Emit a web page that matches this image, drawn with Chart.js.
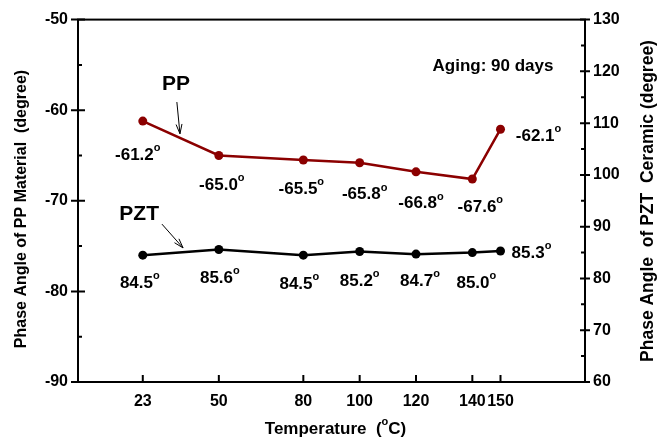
<!DOCTYPE html>
<html>
<head>
<meta charset="utf-8">
<script src="https://cdn.jsdelivr.net/npm/chart.js@4.4.0/dist/chart.umd.min.js"></script>
<style>
  html, body { margin: 0; padding: 0; background: #fff; }
</style>
</head>
<body>
<canvas id="chart" width="667" height="438"></canvas>
<script>
var temps = [23, 50, 80, 100, 120, 140, 150];
var ppPhase = [-61.2, -65.0, -65.5, -65.8, -66.8, -67.6, -62.1];
var pztPhase = [84.5, 85.6, 84.5, 85.2, 84.7, 85.0, 85.3];
var xTicks = [23, 50, 80, 100, 120, 140, 150];

// where each value label sits, relative to its point (px)
var ppLabelOffset = [[-5, 34], [3, 30], [-2, 29], [5, 32], [5, 32], [8, 28], [38, 7]];
var pztLabelOffset = [[-3, 28], [1, 29], [-4, 29], [0, 30], [4, 27], [4, 31], [31, 2]];

var FONT = '"Liberation Sans", Arial, sans-serif';
var PP_RED = '#8b0000';

function bold(size) {
	return 'bold ' + size + 'px ' + FONT;
}

// text with a raised small "o" used as the degree sign
function drawRich(ctx, segs, cx, cy, size) {
	var w = 0;
	segs.forEach(function (s) {
		ctx.font = s.sup ? bold(Math.round(size * 0.62)) : bold(size);
		s.w = ctx.measureText(s.t).width;
		w += s.w;
	});
	var x = cx - w / 2;
	ctx.textAlign = 'left';
	ctx.textBaseline = 'middle';
	segs.forEach(function (s) {
		ctx.font = s.sup ? bold(Math.round(size * 0.62)) : bold(size);
		ctx.fillText(s.t, x, s.sup ? cy - size * 0.42 : cy);
		x += s.w;
	});
}

function degLabel(v) {
	return [{ t: v.toFixed(1) }, { t: 'o', sup: true }];
}

function arrow(ctx, x1, y1, x2, y2) {
	var a = Math.atan2(y2 - y1, x2 - x1);
	ctx.beginPath();
	ctx.moveTo(x1, y1);
	ctx.lineTo(x2, y2);
	ctx.moveTo(x2 - 10 * Math.cos(a - 0.3), y2 - 10 * Math.sin(a - 0.3));
	ctx.lineTo(x2, y2);
	ctx.lineTo(x2 - 10 * Math.cos(a + 0.3), y2 - 10 * Math.sin(a + 0.3));
	ctx.stroke();
}

//-------------------
//- FRAME AND TICKS -
//-------------------
var framePlugin = {
	id: 'frame',
	beforeDatasetsDraw: function (chart) {
		var ctx = chart.ctx, a = chart.chartArea;
		var x = chart.scales.x, yl = chart.scales.y, yr = chart.scales.y1;
		ctx.save();
		ctx.strokeStyle = '#000';
		ctx.lineWidth = 2;
		ctx.strokeRect(a.left, a.top, a.right - a.left, a.bottom - a.top);
		ctx.beginPath();
		xTicks.forEach(function (t) {
			var px = x.getPixelForValue(t);
			ctx.moveTo(px, a.bottom);
			ctx.lineTo(px, a.bottom - 7);
		});
		for (var v = yl.min; v <= yl.max; v += 5) {
			var py = yl.getPixelForValue(v);
			var major = (v % 10 === 0);
			ctx.moveTo(major ? a.left - 7 : a.left, py);
			ctx.lineTo(a.left + (major ? 7 : 4), py);
		}
		for (var w = yr.min; w <= yr.max; w += 5) {
			var qy = yr.getPixelForValue(w);
			var maj = (w % 10 === 0);
			ctx.moveTo(maj ? a.right + 5 : a.right, qy);
			ctx.lineTo(a.right - (maj ? 5 : 4), qy);
		}
		ctx.stroke();
		ctx.restore();
	},
	afterDatasetsDraw: function (chart) {
		var ctx = chart.ctx, a = chart.chartArea;
		var x = chart.scales.x, yl = chart.scales.y, yr = chart.scales.y1;
		ctx.save();
		ctx.fillStyle = '#000';

		// value labels
		temps.forEach(function (t, i) {
			var px = x.getPixelForValue(t);
			drawRich(ctx, degLabel(ppPhase[i]), px + ppLabelOffset[i][0], yl.getPixelForValue(ppPhase[i]) + ppLabelOffset[i][1], 17);
			drawRich(ctx, degLabel(pztPhase[i]), px + pztLabelOffset[i][0], yr.getPixelForValue(pztPhase[i]) + pztLabelOffset[i][1], 17);
		});

		// series tags with arrows
		drawRich(ctx, [{ t: 'PP' }], x.getPixelForValue(34.8), yl.getPixelForValue(-57.1), 21);
		drawRich(ctx, [{ t: 'PZT' }], x.getPixelForValue(21.7), yr.getPixelForValue(92.4), 21);
		ctx.strokeStyle = '#000';
		ctx.lineWidth = 1;
		arrow(ctx, x.getPixelForValue(35.1), yl.getPixelForValue(-59.1), x.getPixelForValue(36.2), yl.getPixelForValue(-62.6));
		arrow(ctx, x.getPixelForValue(29.8), yr.getPixelForValue(90.5), x.getPixelForValue(37.3), yr.getPixelForValue(85.9));

		drawRich(ctx, [{ t: 'Aging: 90 days' }], 493, 66, 17);

		// axis titles
		drawRich(ctx, [{ t: 'Temperature  (' }, { t: 'o', sup: true }, { t: 'C)' }], (a.left + a.right) / 2 + 4, 429, 17);
		ctx.translate(22, 209);
		ctx.rotate(-Math.PI / 2);
		drawRich(ctx, [{ t: 'Phase Angle of PP Material  (degree)' }], 0, 0, 16);
		ctx.setTransform(1, 0, 0, 1, 0, 0);
		ctx.translate(648, 201);
		ctx.rotate(-Math.PI / 2);
		drawRich(ctx, [{ t: 'Phase Angle  of PZT  Ceramic (degree)' }], 0, 0, 17.5);
		ctx.restore();
	}
};

function points(ys) {
	return temps.map(function (t, i) { return { x: t, y: ys[i] }; });
}

var ctx = document.getElementById('chart').getContext('2d');
new Chart(ctx, {
	type: 'line',
	data: {
		datasets: [{
			label: 'PP',
			data: points(ppPhase),
			yAxisID: 'y',
			borderColor: PP_RED,
			backgroundColor: PP_RED,
			borderWidth: 2.5,
			pointRadius: 4.5,
			pointBorderWidth: 0,
		}, {
			label: 'PZT',
			data: points(pztPhase),
			yAxisID: 'y1',
			borderColor: '#000',
			backgroundColor: '#000',
			borderWidth: 2.5,
			pointRadius: 4.5,
			pointBorderWidth: 0,
		}]
	},
	plugins: [framePlugin],
	options: {
		responsive: false,
		animation: false,
		devicePixelRatio: 1,
		layout: { padding: { top: 17, left: 0, right: 0, bottom: 0 } },
		plugins: {
			legend: { display: false },
			tooltip: { enabled: false },
			title: { display: false }
		},
		scales: {
			x: {
				type: 'linear',
				min: 0,
				max: 180,
				afterBuildTicks: function (s) {
					s.ticks = xTicks.map(function (v) { return { value: v }; });
				},
				afterFit: function (s) { s.height = 56; },
				ticks: { autoSkip: false, maxRotation: 0, padding: 10, color: '#000', font: { family: FONT, size: 16, weight: 'bold' } },
				grid: { display: false, drawTicks: false },
				border: { display: false }
			},
			y: {
				position: 'left',
				min: -90,
				max: -50,
				afterFit: function (s) { s.width = 78; },
				ticks: { stepSize: 10, padding: 10, color: '#000', font: { family: FONT, size: 16, weight: 'bold' } },
				grid: { display: false, drawTicks: false },
				border: { display: false }
			},
			y1: {
				position: 'right',
				min: 60,
				max: 130,
				afterFit: function (s) { s.width = 82; },
				ticks: { stepSize: 10, padding: 8, color: '#000', font: { family: FONT, size: 16, weight: 'bold' } },
				grid: { display: false, drawTicks: false },
				border: { display: false }
			}
		}
	}
});
</script>
</body>
</html>
